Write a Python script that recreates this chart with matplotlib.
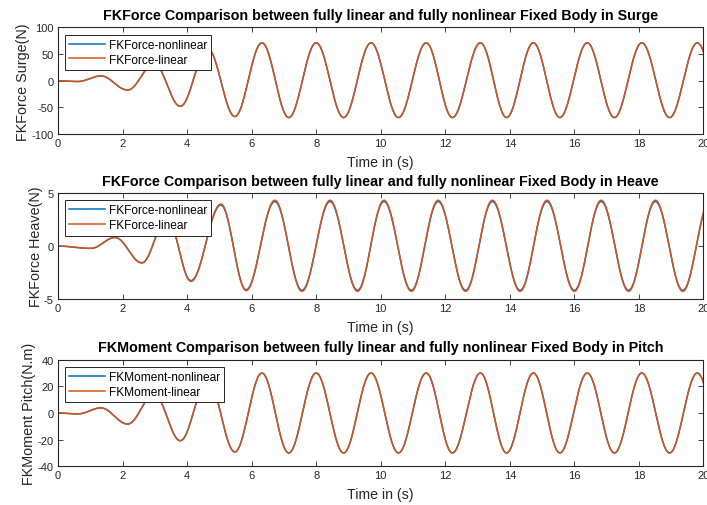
import numpy as np
import matplotlib
matplotlib.use('Agg')
import matplotlib.pyplot as plt

plt.rcParams['font.family'] = ['Liberation Sans', 'DejaVu Sans']
plt.rcParams['axes.unicode_minus'] = False

# extremos (tiempo, valor) de cada serie
t_surge = [0, 0.62, 1.33, 2.16, 2.98, 3.79, 4.64, 5.48, 6.32, 7.15, 8.0, 8.85,
           9.70, 10.55, 11.41, 12.22, 13.09, 13.90, 14.73, 15.55, 16.40, 17.24,
           18.09, 18.95, 19.81, 20.65]
surge_lin = [0, -1.5, 9, -17.5, 32, -48, 60, -67, 71, -69, 71, -69,
             71, -69, 71, -69, 71, -69, 71, -69, 71, -69, 71, -69, 71, -69]
surge_nl = [0, -1.5, 9, -17.5, 32, -48, 60, -67, 71, -69, 71, -69,
            71, -69, 71, -69, 71, -69, 71, -69, 71, -69, 71, -69, 71, -69]

t_heave = [0, 1.02, 1.77, 2.60, 3.38, 4.12, 5.05, 5.83, 6.72, 7.56, 8.43, 9.28,
           10.10, 10.95, 11.78, 12.63, 13.46, 14.32, 15.15, 16.0, 16.83, 17.68,
           18.51, 19.36, 20.20]
heave_lin = [0, -0.22, 0.82, -1.6, 2.7, -3.33, 3.96, -4.2, 4.32, -4.27, 4.32, -4.27,
             4.32, -4.27, 4.32, -4.27, 4.32, -4.27, 4.32, -4.27, 4.32, -4.27,
             4.32, -4.27, 4.32]
heave_nl = [0, -0.22, 0.80, -1.57, 2.64, -3.26, 3.87, -4.12, 4.20, -4.17, 4.20, -4.17,
            4.20, -4.17, 4.20, -4.17, 4.20, -4.17, 4.20, -4.17, 4.20, -4.17,
            4.20, -4.17, 4.20]

t_pitch = t_surge
pitch_lin = [0, -0.7, 3.8, -8.3, 14, -20.8, 25, -29.2, 30, -30, 30, -30,
             30, -30, 30, -30, 30, -30, 30, -30, 30, -30, 30, -30, 30, -30]
pitch_nl = [0, -0.7, 3.8, -8.3, 14, -20.8, 25, -29.2, 30, -30, 30, -30,
            30, -30, 30, -30, 30, -30, 30, -30, 30, -30, 30, -30, 30, -30]

titulos = ['FKForce Comparison between fully linear and fully nonlinear Fixed Body in Surge',
           'FKForce Comparison between fully linear and fully nonlinear Fixed Body in Heave',
           'FKMoment Comparison between fully linear and fully nonlinear Fixed Body in Pitch']
ylabels = ['FKForce Surge(N)', 'FKForce Heave(N)', 'FKMoment Pitch(N.m)']
leyendas = [['FKForce-nonlinear', 'FKForce-linear'],
            ['FKForce-nonlinear', 'FKForce-linear'],
            ['FKMoment-nonlinear', 'FKMoment-linear']]
ylims = [(-100, 100), (-5, 5), (-40, 40)]
yticks = [[-100, -50, 0, 50, 100], [-5, 0, 5], [-40, -20, 0, 20, 40]]

AZUL = '#0072BD'
NARANJA = '#D95319'
GRIS = '#262626'


def onda(tk, vk, t):
    # semiciclos coseno entre extremos consecutivos
    tk = np.asarray(tk, float)
    vk = np.asarray(vk, float)
    i = np.clip(np.searchsorted(tk, t, side='right') - 1, 0, len(tk) - 2)
    s = (t - tk[i]) / (tk[i + 1] - tk[i])
    return vk[i] + (vk[i + 1] - vk[i]) * (1 - np.cos(np.pi * s)) / 2


t = np.linspace(0, 20, 4001)
series = [(t_surge, surge_nl, surge_lin),
          (t_heave, heave_nl, heave_lin),
          (t_pitch, pitch_nl, pitch_lin)]

fig = plt.figure(figsize=(7.07, 5.06), dpi=100)
posiciones = [[0.082, 0.733, 0.913, 0.211],
              [0.082, 0.407, 0.913, 0.2095],
              [0.082, 0.0765, 0.913, 0.2107]]

for k in range(3):
    ax = fig.add_axes(posiciones[k])
    tk, nl, lin = series[k]
    ax.plot(t, onda(tk, nl, t), color=AZUL, lw=1.1, label=leyendas[k][0])
    ax.plot(t, onda(tk, lin, t), color=NARANJA, lw=1.1, label=leyendas[k][1])
    ax.set_xlim(0, 20)
    ax.set_ylim(*ylims[k])
    ax.set_xticks(range(0, 21, 2))
    ax.set_yticks(yticks[k])
    ax.tick_params(direction='in', top=True, right=True, length=3.5, width=0.6,
                   labelsize=8.0, colors=GRIS, pad=3)
    for sp in ax.spines.values():
        sp.set_color(GRIS)
        sp.set_linewidth(0.8)
    ax.set_title(titulos[k], fontsize=10.3, fontweight='bold', pad=6)
    ax.set_xlabel('Time in (s)', fontsize=10.2, color=GRIS, labelpad=5)
    ax.set_ylabel(ylabels[k], fontsize=10.4, color=GRIS, labelpad=1)
    leg = ax.legend(loc='upper left', fontsize=8.6, fancybox=False, framealpha=1,
                    edgecolor=GRIS, borderaxespad=0.6, handlelength=3.0,
                    handletextpad=0.3, labelspacing=0.25, borderpad=0.35)
    leg.get_frame().set_linewidth(0.7)

fig.savefig('out.png', dpi=100)
